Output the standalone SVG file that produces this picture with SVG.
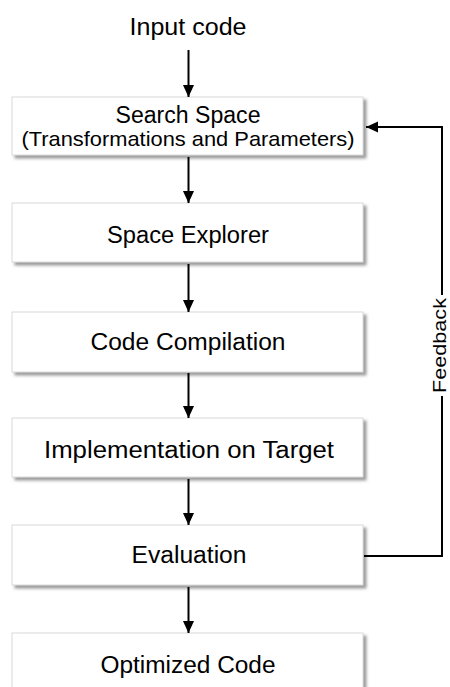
<svg xmlns="http://www.w3.org/2000/svg" width="450" height="687" viewBox="0 0 450 687">
<defs>
<filter id="sh" x="-5%" y="-10%" width="115%" height="130%">
<feDropShadow dx="3" dy="3" stdDeviation="1.5" flood-color="#808080" flood-opacity="0.8"/>
</filter>
<marker id="ah" markerWidth="12" markerHeight="13" refX="13" refY="6" orient="auto" markerUnits="userSpaceOnUse" viewBox="0 0 13 12">
<path d="M0,0 L13,6 L0,12 Z" fill="#000"/>
</marker>
</defs>
<style>
.box{fill:#fff;stroke:#d9d9d9;stroke-width:1;filter:url(#sh)}
.t{font-family:"Liberation Sans",Arial,sans-serif;font-size:23px;fill:#000;text-anchor:middle}
.s{font-size:21px}
.c{fill:none;stroke:#000;stroke-width:2}
</style>
<g id="input"><text class="t" x="188" y="35" textLength="117" lengthAdjust="spacingAndGlyphs">Input code</text></g>
<g id="search"><rect class="box" x="12" y="97" width="351" height="58"/>
<text class="t" x="188" y="123" textLength="145" lengthAdjust="spacingAndGlyphs">Search Space</text>
<text class="t s" x="188" y="146" textLength="333" lengthAdjust="spacingAndGlyphs">(Transformations and Parameters)</text></g>
<g id="explorer"><rect class="box" x="12" y="203" width="351" height="59"/>
<text class="t" x="188" y="243" textLength="162" lengthAdjust="spacingAndGlyphs">Space Explorer</text></g>
<g id="compile"><rect class="box" x="12" y="312" width="351" height="60"/>
<text class="t" x="188" y="350" textLength="195" lengthAdjust="spacingAndGlyphs">Code Compilation</text></g>
<g id="impl"><rect class="box" x="12" y="418" width="351" height="59"/>
<text class="t" x="189" y="458" textLength="290" lengthAdjust="spacingAndGlyphs">Implementation on Target</text></g>
<g id="eval"><rect class="box" x="12" y="525" width="351" height="60"/>
<text class="t" x="189" y="563" textLength="115" lengthAdjust="spacingAndGlyphs">Evaluation</text></g>
<g id="opt"><rect class="box" x="12" y="633" width="351" height="60"/>
<text class="t" x="188" y="673" textLength="175" lengthAdjust="spacingAndGlyphs">Optimized Code</text></g>
<g id="connectors">
<line class="c" x1="188.5" y1="50" x2="188.5" y2="97" marker-end="url(#ah)"/>
<line class="c" x1="188.5" y1="157" x2="188.5" y2="203" marker-end="url(#ah)"/>
<line class="c" x1="188.5" y1="264" x2="188.5" y2="312" marker-end="url(#ah)"/>
<line class="c" x1="188.5" y1="373" x2="188.5" y2="418" marker-end="url(#ah)"/>
<line class="c" x1="188.5" y1="479" x2="188.5" y2="525" marker-end="url(#ah)"/>
<line class="c" x1="188.5" y1="587" x2="188.5" y2="633" marker-end="url(#ah)"/>
<polyline class="c" points="364,556 442,556 442,396"/>
<polyline class="c" points="442,295 442,127 366,127" marker-end="url(#ah)"/>
<text class="t" transform="translate(446,345.5) rotate(-90)" x="0" y="0" style="font-size:19px" textLength="95" lengthAdjust="spacingAndGlyphs">Feedback</text>
</g>
</svg>
